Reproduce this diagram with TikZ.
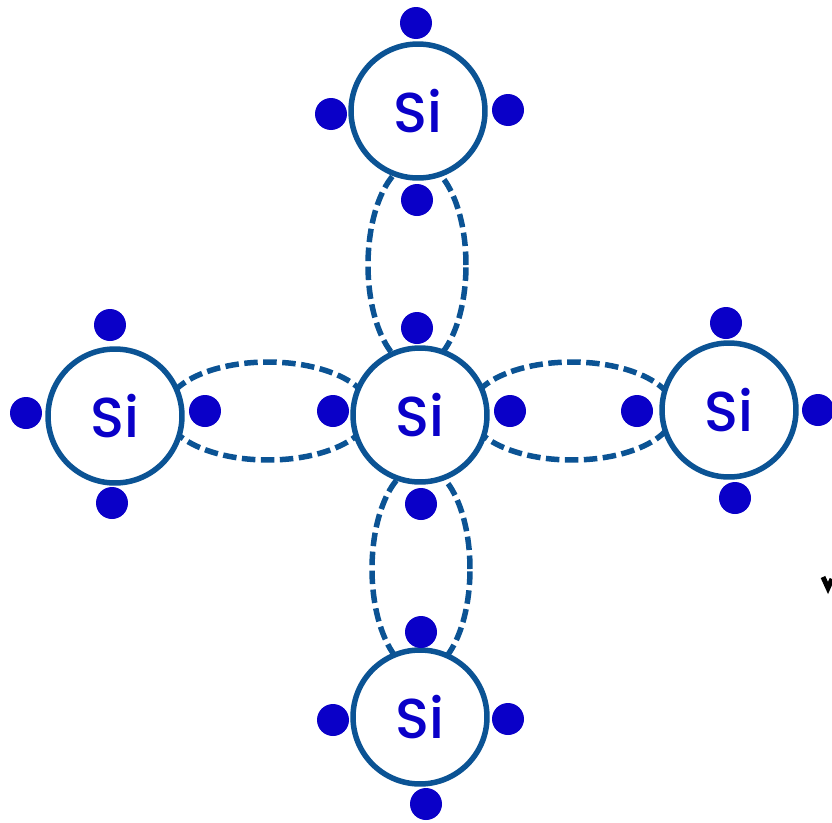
\documentclass[tikz,border=0pt]{standalone}
\usepackage{fontspec}
\setsansfont{Poppins Medium}
\usepackage{xcolor}
\usetikzlibrary{shapes.geometric, positioning}
\definecolor{atomblue}{RGB}{11,83,148}
\definecolor{elecblue}{RGB}{10,0,200}

\begin{document}
\begin{tikzpicture}[
    x=0.02cm, y=-0.02cm,
    atom/.style={circle, draw=atomblue, fill=white, line width=0.11cm,
                 minimum size=2.68cm, inner sep=0pt, text=elecblue,
                 font=\sffamily\fontsize{32}{32}\selectfont},
    electron/.style={circle, fill=elecblue, minimum size=0.64cm, inner sep=0pt},
    bond/.style={ellipse, draw=atomblue, line width=0.11cm, inner sep=0pt,
                 dash pattern=on 0.27cm off 0.11cm},
    hbond/.style={bond, minimum width=4.1cm, minimum height=1.96cm},
    vbond/.style={bond, minimum width=1.96cm, minimum height=4.1cm}
]
\useasboundingbox (0,0) rectangle (832,822);
% bonds go under the atoms
\node[vbond] (Btop)    at (417,265) {};
\node[vbond] (Bbottom) at (421,569) {};
\node[hbond] (Bleft)   at (268,411) {};
\node[hbond] (Bright)  at (572,411) {};
% atoms
\node[atom] (Stop)    at (418,111) {Si};
\node[atom] (Sleft)   at (115,416) {Si};
\node[atom] (Scenter) at (420,415) {Si};
\node[atom] (Sright)  at (729,410) {Si};
\node[atom] (Sbottom) at (420,717) {Si};
% electrons
\node[electron] (E1)  at (416,23)  {};
\node[electron] (E2)  at (331,114) {};
\node[electron] (E3)  at (508,110) {};
\node[electron] (E4)  at (417,200) {};
\node[electron] (E5)  at (417,328) {};
\node[electron] (E6)  at (110,325) {};
\node[electron] (E7)  at (26,413)  {};
\node[electron] (E8)  at (112,503) {};
\node[electron] (E9)  at (205,411) {};
\node[electron] (E10) at (333,411) {};
\node[electron] (E11) at (510,411) {};
\node[electron] (E12) at (637,411) {};
\node[electron] (E13) at (726,323) {};
\node[electron] (E14) at (818,410) {};
\node[electron] (E15) at (735,498) {};
\node[electron] (E16) at (421,504) {};
\node[electron] (E17) at (421,632) {};
\node[electron] (E18) at (333,720) {};
\node[electron] (E19) at (508,719) {};
\node[electron] (E20) at (426,804) {};
% clipped mark at the right edge
\draw[line width=0.1cm] (823,577) -- (828,588) -- (832,579);
\end{tikzpicture}
\end{document}
